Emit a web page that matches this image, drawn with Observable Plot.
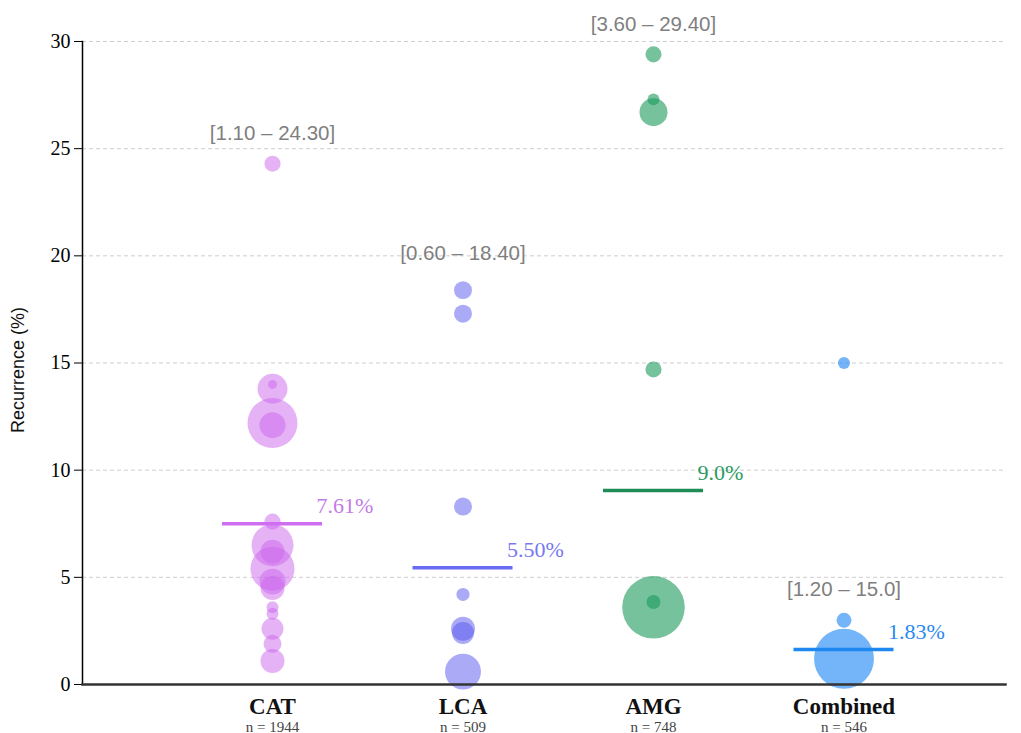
<!DOCTYPE html>
<html><head><meta charset="utf-8">
<script src="https://cdn.jsdelivr.net/npm/d3@7"></script>
<script src="https://cdn.jsdelivr.net/npm/@observablehq/plot@0.6"></script>
<style>body{margin:0;background:#fff;}</style>
</head><body><div id="chart"></div>
<script>
// Categories and labels
const categories = ["CAT", "LCA", "AMG", "Combined"];
const sampleLabels = ["n = 1944", "n = 509", "n = 748", "n = 546"];
const meanValues = [7.5, 5.45, 9.05, 1.63];
const meanLabels = ["7.61%", "5.50%", "9.0%", "1.83%"];
const rangeLabels = ["[1.10 – 24.30]", "[0.60 – 18.40]", "[3.60 – 29.40]", "[1.20 – 15.0]"];
const rangeLabelY = [25.7, 20.1, 30.8, 4.45];
const yTicks = [0, 5, 10, 15, 20, 25, 30];

// Per-study recurrence (%) and study size (n)
const catRecurrence = [24.3, 14.0, 13.8, 12.2, 12.1, 7.6, 6.5, 6.2, 5.4, 4.8, 4.5, 3.6, 3.3, 2.6, 1.9, 1.1];
const catN          = [36,   11,   125,  348,  94,   36,  245, 80,  270, 94,  80,  20,  20,  67,  45,  80];
const lcaRecurrence = [18.4, 17.3, 8.3, 4.2, 2.6, 2.4, 0.6];
const lcaN          = [45,   45,   45,  24,  80,  67,  180];
const amgRecurrence = [29.4, 27.3, 26.7, 14.7, 3.85, 3.6];
const amgN          = [36,   20,   109,  36,   27,   545];
const combRecurrence = [15.0, 3.0, 1.2];
const combN          = [20,   31,  500];

// Colours
const dotColors   = {CAT: "#cc66ee", LCA: "#5555f0", AMG: "#1a9a5c", Combined: "#2a8cf5"};
const dotOpacity  = {CAT: 0.5, LCA: 0.5, AMG: 0.6, Combined: 0.65};
const lineColors  = ["#d06ef2", "#6a6af2", "#1f8c55", "#1e88f0"];
const labelColors = ["#c27ce6", "#7878f0", "#2a9a62", "#2a8af0"];

const SERIF = "'Liberation Serif', 'Times New Roman', Times, serif";
const SANS = "'Liberation Sans', Arial, Helvetica, sans-serif";

const points = [
  ...catRecurrence.map((v, i) => ({cat: "CAT", value: v, n: catN[i]})),
  ...lcaRecurrence.map((v, i) => ({cat: "LCA", value: v, n: lcaN[i]})),
  ...amgRecurrence.map((v, i) => ({cat: "AMG", value: v, n: amgN[i]})),
  ...combRecurrence.map((v, i) => ({cat: "Combined", value: v, n: combN[i]}))
];
const summary = categories.map((c, i) => ({
  cat: c, mean: meanValues[i], meanLabel: meanLabels[i],
  range: rangeLabels[i], rangeY: rangeLabelY[i], nLabel: sampleLabels[i],
  line: lineColors[i], labelColor: labelColors[i]
}));

const plot = Plot.plot({
  width: 1021, height: 733,
  marginLeft: 82, marginRight: 16, marginTop: 41, marginBottom: 49,
  style: {background: "#fff", fontFamily: SERIF},
  x: {type: "band", domain: categories, range: [222, 893.5], paddingInner: 0.475, paddingOuter: 0, round: false, axis: null},
  y: {domain: [0, 30], axis: null},
  r: {domain: [0, 560], range: [0, 31.7]},
  color: {type: "identity"},
  marks: [
    Plot.gridY(yTicks.filter(t => t > 0), {stroke: "#c8c8c8", strokeOpacity: 1, strokeDasharray: "4,3", strokeWidth: 0.9}),
    Plot.dot(points, {
      x: "cat", y: "value", r: "n",
      fill: d => dotColors[d.cat], fillOpacity: d => dotOpacity[d.cat], stroke: "none"
    }),
    Plot.tickY(summary, {x: "cat", y: "mean", stroke: d => d.line, strokeWidth: 3.5}),
    Plot.text(summary, {
      x: "cat", y: "mean", text: "meanLabel", textAnchor: "start", lineAnchor: "bottom",
      dx: 44, dy: -11, fontSize: 22, fill: d => d.labelColor, fontFamily: SERIF
    }),
    Plot.text(summary, {
      x: "cat", y: "rangeY", text: "range", fontSize: 20.5, fill: "#7f7f7f", fontFamily: SANS
    }),
    Plot.axisY({ticks: yTicks, tickSize: 8, tickPadding: 4, fontSize: 20, fontFamily: SERIF, fill: "#000", stroke: "#000", label: null}),
    Plot.frame({anchor: "left", stroke: "#000", strokeWidth: 1.5}),
    Plot.frame({anchor: "bottom", stroke: "#333", strokeWidth: 2.5}),
    Plot.text(summary, {
      x: "cat", text: "cat", frameAnchor: "bottom", lineAnchor: "bottom", dy: 29,
      fontSize: 23, fontWeight: "bold", fill: "#111", fontFamily: SERIF
    }),
    Plot.text(summary, {
      x: "cat", text: "nLabel", frameAnchor: "bottom", lineAnchor: "bottom", dy: 47,
      fontSize: 15, fill: "#444", fontFamily: SERIF
    }),
    Plot.text(["Recurrence (%)"], {
      text: d => d, frameAnchor: "left", textAnchor: "middle", rotate: -90, dx: -64, dy: 7,
      fontSize: 18, fill: "#111", fontFamily: SANS
    })
  ]
});
document.getElementById("chart").appendChild(plot);
</script>
</body></html>
